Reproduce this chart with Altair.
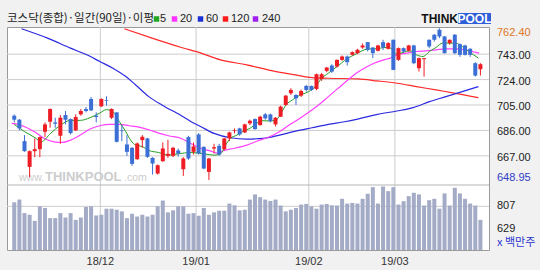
import altair as alt
import pandas as pd

# ---------------- data ----------------
opens = [697, 694, 678, 658.75, 670.5, 672, 685, 692.5, 692, 682,
         697.5, 694.5, 686, 698, 702, 709.5, 697, 704, 708.5, 695.5,
         699.5, 686, 675.5, 673, 664.5, 678.75, 680, 665.5, 653.75, 663,
         667, 667, 671, 657, 681, 670, 683, 673.75, 655, 672.5,
         674.5, 672, 680, 685.5, 687.5, 684.5, 691.25, 694.5, 690, 698,
         698, 690.5, 696.25, 705, 713.75, 712.5, 712, 719.25, 719.25, 717,
         724.5, 730.5, 734.5, 733.75, 738.75, 741.25, 742.5, 743.75, 748, 752,
         748, 745.5, 752, 747, 753.75, 738.75, 747.5, 745.5, 749.5, 732.5,
         739.25, 753.75, 757.5, 761.25, 756.25, 751.25, 757.5, 750.5, 749.5, 747,
         736.25, 731.75]
highs = [698, 694.5, 682.5, 671, 680, 681.5, 692, 702.5, 695.5, 697.5,
         700.5, 695, 698, 702, 703.5, 711, 699.5, 710, 711.5, 702.5,
         699.5, 690, 682.5, 673.5, 677, 682.5, 680.5, 666, 660.5, 677,
         679, 673.75, 672.5, 666, 682, 677, 684, 674, 665.5, 676,
         676, 680.5, 685, 687.5, 688, 691, 694, 695, 697, 699,
         698.5, 696, 704.5, 712.5, 717.5, 713, 716.5, 720, 719.5, 728.5,
         729, 733.5, 735.5, 739, 742, 742, 745, 747, 751, 752,
         748, 750, 753.75, 752, 754, 748, 748, 750, 750, 740.5,
         740, 754, 758, 762.4, 756.5, 754, 758, 751, 750, 747.5,
         737, 736.25]
lows = [692, 686, 670, 651, 666, 666, 681, 688, 688, 676,
        690.5, 683, 685.5, 697, 699.5, 700.5, 692, 703.5, 704.5, 694.5,
        677, 678, 667, 659.5, 664, 673, 665.5, 653, 653, 662.5,
        665.5, 666, 666.5, 652, 664, 668, 668, 657, 648.95, 668.75,
        667, 671, 678, 683.75, 682, 684, 690, 686.5, 689.5, 694,
        692, 689, 696, 704.5, 712.5, 705, 711, 715, 715.5, 716,
        723, 729.5, 729, 733, 738, 734.5, 742, 743, 747, 745,
        740, 745, 746, 746.5, 731, 738, 744, 745, 735.5, 730,
        726.25, 747.5, 752.5, 755, 743.5, 750, 743, 741, 742, 741,
        726.25, 727]
closes = [694, 687.5, 670.5, 670.5, 672, 681, 690.5, 702, 691, 695.5,
          694, 684, 696, 700.5, 700.5, 701, 696, 709.5, 708, 702,
          677.5, 685.5, 670, 661, 676.25, 681.25, 666.25, 661.25, 660, 672.5,
          668.5, 673, 668.75, 665, 665, 674, 668.75, 657.5, 665, 673.5,
          668, 680, 684.5, 686, 683, 690.5, 693.25, 687, 696.25, 695,
          693, 695.5, 703.75, 712, 716.25, 710, 715.5, 716.25, 716.25, 728,
          728, 733, 730, 738.75, 741.25, 737, 744.5, 746.25, 749.5, 746.25,
          743.75, 749.5, 748, 751.25, 731.25, 747.5, 745, 749.5, 736.25, 740,
          740, 748.75, 753.75, 756.25, 743.75, 753.75, 743.75, 742.5, 742.5, 742.5,
          727, 735.5]
volumes = [839, 861, 753, 740, 691, 807, 794, 713, 713, 753,
           718, 753, 699, 718, 802, 807, 734, 740, 788, 788,
           780, 767, 713, 748, 726, 740, 726, 740, 807, 853,
           759, 775, 807, 807, 748, 753, 732, 794, 740, 759,
           772, 772, 829, 815, 775, 780, 861, 902, 880, 861,
           850, 861, 813, 767, 780, 794, 821, 826, 807, 788,
           821, 826, 815, 813, 867, 829, 834, 829, 867, 907,
           960, 829, 965, 928, 960, 821, 848, 888, 915, 902,
           813, 856, 867, 788, 910, 813, 955, 910, 867, 829,
           813, 699]

ma5_day = [0, 2.05, 4.09, 5.24, 7.15, 9.06, 10.97, 12.88, 14.8, 16.71, 17.97, 19.25,
           20.53, 21.79, 22.75, 23.7, 24.99, 26.27, 28.18, 30.09, 32.0, 34.54, 37.09,
           39.0, 40.28, 41.24, 42.19, 43.47, 44.73, 46.01, 47.3, 48.56, 49.84, 51.12,
           52.07, 53.03, 54.29, 55.25, 56.2, 57.48, 58.77, 60.03, 61.31, 62.59, 63.85,
           65.13, 66.41, 67.04, 68.32, 69.58, 70.87, 72.15, 73.41, 74.69, 75.97, 77.23,
           78.51, 79.79, 81.06, 82.34, 83.62, 84.88, 86.16, 87.44, 88.7, 89.66, 90.61]
ma5_val = [690.5, 685, 680.5, 677.5, 684, 690, 693.5, 693.5, 695.5, 699, 701.5, 700,
           692.5, 685, 678.5, 675, 674, 671, 669.5, 667.5, 668.5, 669.5, 668.5,
           667.5, 668.5, 675, 680, 682.5, 685.5, 687.5, 691.25, 693.25, 693, 693.75,
           698.75, 705, 708.75, 711.25, 713, 715, 718.75, 725, 728.75, 732.5, 736.25,
           740, 742.5, 743.75, 746.25, 747, 747, 748, 747.5, 743, 744.5, 745.5,
           742.5, 741.25, 745, 748, 751.25, 751.25, 751.25, 748.75, 745, 742.5, 740]

ma20_day = [-0.5, 0.76, 2.05, 3.96, 5.87, 7.78, 9.37, 10.97, 12.88, 14.8, 16.71, 18.62,
            20.53, 22.44, 24.35, 26.27, 28.18, 30.09, 32.63, 34.54, 36.46, 38.37, 39.65,
            40.91, 42.82, 45.38, 47.93, 49.84, 51.75, 53.66, 55.57, 57.48, 59.4, 61.31,
            63.22, 65.13, 67.04, 68.32, 70.24, 72.15, 73.41, 74.69, 76.6, 78.51, 80.42,
            82.34, 84.25, 86.16, 88.07, 89.98, 90.75]
ma20_val = [691.25, 690.5, 688.75, 685, 680, 677.5, 677, 678.75, 682.5, 687, 689.5, 690.5,
            690.5, 689.5, 688.5, 686.5, 684, 682, 680, 676, 672.5, 670.5, 669,
            671, 672.5, 675, 678.75, 681.25, 685, 690, 694.5, 699.5, 705, 711.25,
            717.5, 723.75, 729.5, 732.5, 736.25, 738.75, 740, 742.5, 743.75, 745, 745.5,
            746.25, 747, 747, 746.25, 744.5, 743.75]

ma60_day = [1.41, 6.5, 10.97, 14.15, 16.71, 19.25, 21.79, 23.7, 26.27, 28.81, 32.63, 34.54,
            36.46, 39.0, 42.19, 45.38, 48.56, 51.75, 54.94, 58.12, 61.31, 64.5, 67.04,
            70.87, 74.69, 77.88, 81.06, 84.25, 87.44, 90.61]
ma60_val = [762, 755, 747.5, 742.5, 737.5, 732.5, 726.25, 720, 711.25, 705, 697, 692.5,
            688.75, 683.75, 680.5, 679.5, 680, 682.5, 685.5, 688, 690.5, 692.5, 694.5,
            698, 700.5, 703, 707.5, 711.25, 715, 718.75]

ma120_day = [21.49, 26.9, 32.63, 36.46, 40.28, 45.38, 50.47, 54.94, 58.12, 61.31, 67.04,
             70.87, 74.69, 78.51, 82.34, 86.16, 90.61]
ma120_val = [762, 755, 748, 743.75, 738.75, 735, 730.5, 727.5, 725.5, 725, 724.5,
             723, 721.25, 718.75, 716.25, 713.75, 710.5]

month_day = [16.8, 35.5, 57.5, 74.3]
month_label = ["18/12", "19/01", "19/02", "19/03"]
price_grid = [743, 724, 705, 686, 667]
price_tick = [743.00, 724.00, 705.00, 686.00, 667.00]
price_max = 762.40
price_min = 648.95
vol_grid = [807]
vol_tick = [807, 629]
legend_names = ["5", "20", "60", "120", "240"]
legend_colors = ["#1fa51f", "#ff33ff", "#1c2fd6", "#ff1a1a", "#a020f0"]

# ---------------- styling ----------------
W, H = 482, 223
RED = "#ee1c24"
BLUE = "#3b6fd6"
VOLC = "#a3abc6"
GRID = "#cccccc"
NUMFONT = "Liberation Sans"
KRFONT = "Noto Sans CJK KR"

XS = alt.Scale(domain=[-0.44, 91.7], nice=False, zero=False)
PS = alt.Scale(domain=[645.2, 763.3], range=[158, 0], nice=False, zero=False)
VS = alt.Scale(domain=[459, 977], range=[223, 158], nice=False, zero=False)


def X(f):
    return alt.X(f, type="quantitative", scale=XS, axis=None)


def PY(f):
    return alt.Y(f, type="quantitative", scale=PS, axis=None)


def VY(f):
    return alt.Y(f, type="quantitative", scale=VS, axis=None)


candles = pd.DataFrame({"day": range(len(opens)), "open": opens, "high": highs,
                        "low": lows, "close": closes})
vol_df = pd.DataFrame({"day": range(len(volumes)), "volume": volumes})

dir_color = alt.Color("dir:N", scale=alt.Scale(domain=["up", "down"], range=[RED, BLUE]),
                      legend=None)

layers = []

# grid lines
layers.append(alt.Chart(pd.DataFrame({"v": price_grid})).mark_rule(color=GRID, strokeWidth=1)
              .encode(y=PY("v"), x=alt.value(0), x2=alt.value(W)))
layers.append(alt.Chart(pd.DataFrame({"v": vol_grid})).mark_rule(color=GRID, strokeWidth=1)
              .encode(y=VY("v"), x=alt.value(0), x2=alt.value(W)))
layers.append(alt.Chart(pd.DataFrame({"d": month_day})).mark_rule(color=GRID, strokeWidth=1)
              .encode(x=X("d"), y=alt.value(0), y2=alt.value(H)))
layers.append(alt.Chart(pd.DataFrame({"d": [0]})).mark_rule(color="#b5b5b5", strokeWidth=1)
              .encode(y=alt.value(158), x=alt.value(0), x2=alt.value(W)))

# watermark
layers.append(alt.Chart(pd.DataFrame({"t": ["www."]})).mark_text(
    align="left", baseline="middle", font=NUMFONT, fontSize=10.5, color="#cdcdcd")
    .encode(text="t:N", x=alt.value(12), y=alt.value(151)))
layers.append(alt.Chart(pd.DataFrame({"t": ["THINKPOOL"]})).mark_text(
    align="left", baseline="middle", font=NUMFONT, fontSize=13, fontWeight="bold", color="#cdcdcd")
    .encode(text="t:N", x=alt.value(38), y=alt.value(150)))
layers.append(alt.Chart(pd.DataFrame({"t": [".com"]})).mark_text(
    align="left", baseline="middle", font=NUMFONT, fontSize=10.5, color="#cdcdcd")
    .encode(text="t:N", x=alt.value(117), y=alt.value(151)))

# volume bars
layers.append(alt.Chart(vol_df).mark_bar(size=4, color=VOLC, clip=True)
              .encode(x=X("day"), y=VY("volume"), y2=alt.datum(459)))

# moving averages
for days, vals, col, sw in [(ma120_day, ma120_val, "#ff2a2a", 1.2),
                            (ma60_day, ma60_val, "#2a2ae0", 1.2),
                            (ma20_day, ma20_val, "#ff40ff", 1.2),
                            (ma5_day, ma5_val, "#22a022", 1)]:
    layers.append(alt.Chart(pd.DataFrame({"d": days, "v": vals}))
                  .mark_line(color=col, strokeWidth=sw, interpolate="monotone", clip=True)
                  .encode(x=X("d"), y=PY("v")))

# candles
base = alt.Chart(candles).transform_calculate(
    dir="datum.close >= datum.open ? 'up' : 'down'")
layers.append(base.mark_rule(strokeWidth=1, clip=True)
              .encode(x=X("day"), y=PY("low"), y2="high", color=dir_color))
layers.append(base.mark_bar(size=4, clip=True)
              .encode(x=X("day"), y=PY("open"), y2="close", color=dir_color))

# right price labels
layers.append(alt.Chart(pd.DataFrame({"v": price_tick})).mark_text(
    align="left", baseline="middle", dy=2, font=NUMFONT, fontSize=11, color="#222222")
    .encode(y=PY("v"), x=alt.value(490), text=alt.Text("v:Q", format=".2f")))
layers.append(alt.Chart(pd.DataFrame({"v": [price_max]})).mark_text(
    align="left", baseline="middle", dy=5, font=NUMFONT, fontSize=11, color="#e0771f")
    .encode(y=PY("v"), x=alt.value(490), text=alt.Text("v:Q", format=".2f")))
layers.append(alt.Chart(pd.DataFrame({"v": [price_min]})).mark_text(
    align="left", baseline="middle", dy=-2, font=NUMFONT, fontSize=11, color="#3040c8")
    .encode(y=PY("v"), x=alt.value(490), text=alt.Text("v:Q", format=".2f")))
layers.append(alt.Chart(pd.DataFrame({"v": vol_tick})).mark_text(
    align="left", baseline="middle", font=NUMFONT, fontSize=11, color="#222222")
    .encode(y=VY("v"), x=alt.value(490), text=alt.Text("v:Q", format="d")))
layers.append(alt.Chart(pd.DataFrame({"t": ["x 백만주"]})).mark_text(
    align="left", baseline="middle", font=KRFONT, fontSize=11, color="#2a36d0")
    .encode(text="t:N", x=alt.value(490), y=alt.value(216)))

# bottom month labels
layers.append(alt.Chart(pd.DataFrame({"d": month_day, "t": month_label})).mark_text(
    align="center", baseline="middle", font=NUMFONT, fontSize=11, color="#333333")
    .encode(x=X("d"), y=alt.value(235), text="t:N"))

# title + legend
layers.append(alt.Chart(pd.DataFrame({"t": ["코스닥(종합)·일간(90일)·이평"]})).mark_text(
    align="left", baseline="middle", font=KRFONT, fontSize=11.5, color="#222222")
    .encode(text="t:N", x=alt.value(0), y=alt.value(-8)))
sq_x = [149.5, 167.5, 193.5, 218.5, 248.5]
tx_x = [153, 173, 199, 224, 255]
for name, col, sx, tx in zip(legend_names, legend_colors, sq_x, tx_x):
    layers.append(alt.Chart(pd.DataFrame({"t": [name]})).mark_square(
        size=30, filled=True, opacity=1, color=col)
        .encode(x=alt.value(sx), y=alt.value(-8)))
    layers.append(alt.Chart(pd.DataFrame({"t": [name]})).mark_text(
        align="left", baseline="middle", font=NUMFONT, fontSize=11, color="#222222")
        .encode(text="t:N", x=alt.value(tx), y=alt.value(-8)))

# logo
layers.append(alt.Chart(pd.DataFrame({"t": ["POOL"]})).mark_rect(color="#2f5fd8")
              .encode(x=alt.value(451), x2=alt.value(484), y=alt.value(-14), y2=alt.value(-3)))
layers.append(alt.Chart(pd.DataFrame({"t": ["THINK"]})).mark_text(
    align="right", baseline="middle", font=NUMFONT, fontSize=12, fontWeight="bold", color="#111111")
    .encode(text="t:N", x=alt.value(451), y=alt.value(-8)))
layers.append(alt.Chart(pd.DataFrame({"t": ["POOL"]})).mark_text(
    align="center", baseline="middle", font=NUMFONT, fontSize=12, fontWeight="bold", color="white")
    .encode(text="t:N", x=alt.value(467.5), y=alt.value(-8)))

chart = (alt.layer(*layers)
         .resolve_scale(y="independent")
         .properties(width=W, height=H,
                     padding={"left": 7, "top": 27, "right": 51, "bottom": 20},
                     autosize=alt.AutoSizeParams(type="none"),
                     background="#f1f1f1")
         .configure_view(stroke="#9a9a9a", strokeWidth=1, fill="white"))

chart.save("out.html", embed_options={"renderer": "svg", "actions": False})
